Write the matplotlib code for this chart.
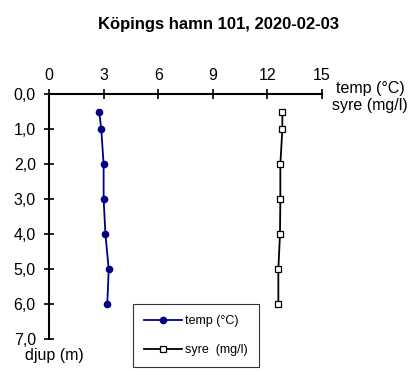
import matplotlib
matplotlib.use("Agg")
import matplotlib.pyplot as plt
from matplotlib.ticker import FuncFormatter

plt.rcParams['font.family'] = ['Liberation Sans', 'DejaVu Sans']

depth = [0.5, 1.0, 2.0, 3.0, 4.0, 5.0, 6.0]
temp = [2.76, 2.87, 3.0, 3.0, 3.1, 3.28, 3.2]
syre = [12.82, 12.82, 12.71, 12.71, 12.69, 12.6, 12.6]
x_ticks = [0, 3, 6, 9, 12, 15]
y_ticks = [0, 1, 2, 3, 4, 5, 6, 7]

fig = plt.figure(figsize=(4.12, 3.71), dpi=100)
ax = fig.add_axes([0.119, 0.0854, 0.6626, 0.6604])

ax.plot(temp, depth, color='#000080', marker='o', markersize=4.5,
        linewidth=1.3, label='temp (°C)')
ax.plot(syre, depth, color='black', marker='s', markersize=4.2,
        markerfacecolor='white', markeredgecolor='black', markeredgewidth=0.9,
        linewidth=1.3, label='syre  (mg/l)')

ax.set_xlim(0, 15)
ax.set_ylim(7, 0)
ax.set_xticks(x_ticks)
ax.set_yticks(y_ticks)
ax.yaxis.set_major_formatter(FuncFormatter(lambda v, p: f"{v:.1f}".replace('.', ',')))
ax.xaxis.tick_top()
ax.spines['right'].set_visible(False)
ax.spines['bottom'].set_visible(False)
ax.spines['top'].set_linewidth(1.5)
ax.spines['left'].set_linewidth(1.5)
ax.tick_params(axis='both', direction='inout', length=7, width=1.2,
               labelsize=11.5)
ax.tick_params(axis='y', pad=6)
ax.tick_params(axis='x', top=True, bottom=False, pad=5)

fig.text(0.53, 0.935, 'Köpings hamn 101, 2020-02-03', ha='center', va='center',
         fontsize=12, fontweight='bold')
fig.text(0.898, 0.739, 'temp (°C)\nsyre (mg/l)', ha='center', va='center',
         fontsize=11.5, linespacing=1.2)
fig.text(0.061, 0.043, 'djup (m)', ha='left', va='center', fontsize=11.5)

leg = ax.legend(loc='upper left', bbox_to_anchor=(133 / 412, 1 - 304 / 371),
                bbox_transform=fig.transFigure, frameon=True,
                fancybox=False, edgecolor='black', fontsize=9,
                handlelength=3.0, borderpad=0.9, labelspacing=1.35,
                handletextpad=0.25, borderaxespad=0)
leg.get_frame().set_linewidth(0.8)

fig.savefig('out.png', dpi=100)
